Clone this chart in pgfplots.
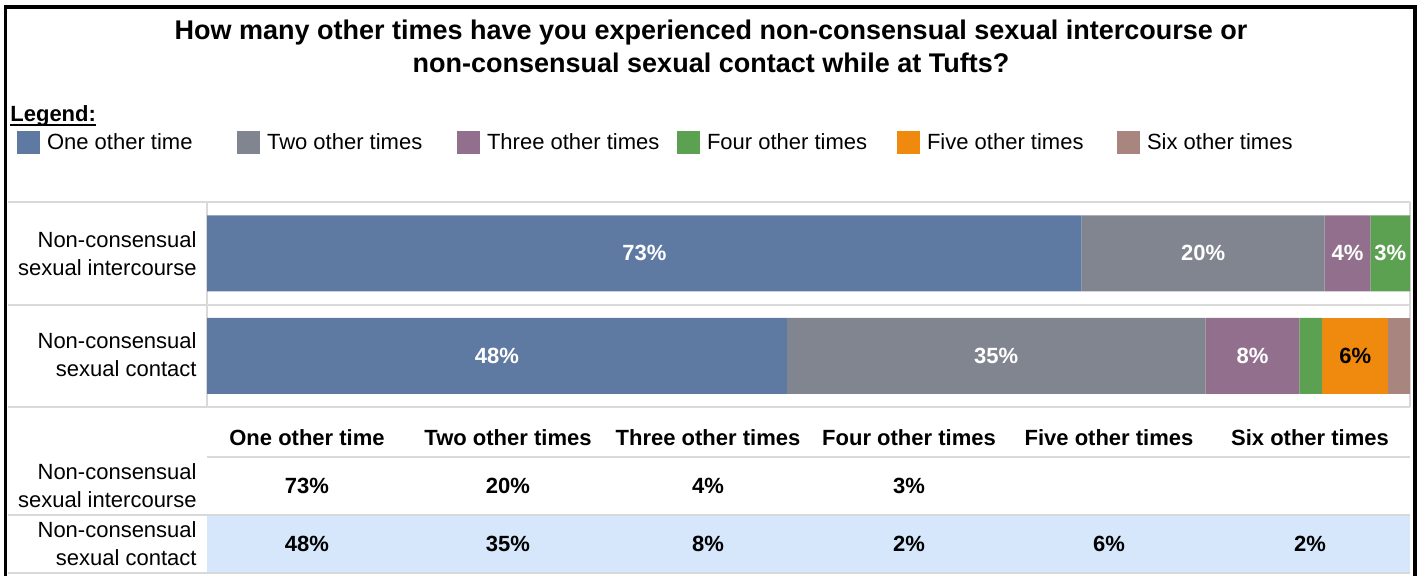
\documentclass[border=0pt]{standalone}
\usepackage{pgfplots}
\pgfplotsset{compat=1.18}
\usepackage{fontspec}
\setmainfont{Liberation Sans}
\definecolor{cOne}{HTML}{5F7AA2}
\definecolor{cTwo}{HTML}{81858F}
\definecolor{cThree}{HTML}{92708D}
\definecolor{cFour}{HTML}{5BA151}
\definecolor{cFive}{HTML}{F08A0E}
\definecolor{cSix}{HTML}{A8857E}
\definecolor{bgblue}{HTML}{D6E7FB}
\definecolor{gridc}{HTML}{D9D9D9}
\newcommand{\fs}{\fontsize{11}{14}\selectfont}
\begin{document}
\begin{tikzpicture}
% ---------- frame, titles, grid (pixel coordinates, y downwards)
\begin{scope}[x=0.5pt,y=-0.5pt]
\path[use as bounding box] (0,0) rectangle (1423,575);
\fill[bgblue] (207,516) rectangle (1410,573);
\draw[gridc, line width=0.6pt] (8,202) -- (1410,202);
\draw[gridc, line width=0.6pt] (8,305) -- (1410,305);
\draw[gridc, line width=0.6pt] (8,407) -- (1410,407);
\draw[gridc, line width=0.6pt] (207,202) -- (207,407);
\draw[gridc, line width=0.6pt] (1410,202) -- (1410,407);
\draw[gridc, line width=0.6pt] (207,457) -- (1410,457);
\draw[gridc, line width=0.6pt] (8,515) -- (1410,515);
\draw[gridc, line width=0.6pt] (8,573) -- (1410,573);
\draw[black, line width=1.6pt] (5.5,576) -- (5.5,7) -- (1415,7) -- (1415,576);
\node[align=center, font=\bfseries\fontsize{13.5}{16.5}\selectfont] at (711,46.5)
  {How many other times have you experienced non-consensual sexual intercourse or\\non-consensual sexual contact while at Tufts?};
\node[anchor=west, inner sep=0pt, font=\bfseries\fs] (lg) at (10,116) {Legend:};
\draw[line width=0.9pt] ([yshift=-1.6pt]lg.base west) -- ([yshift=-1.6pt]lg.base east);
% row labels of the chart
\node[anchor=east, align=right, inner sep=0pt, font=\fs] at (197,254) {Non-consensual\\sexual intercourse};
\node[anchor=east, align=right, inner sep=0pt, font=\fs] at (197,355) {Non-consensual\\sexual contact};
% data table
\foreach \x/\t in {307/One other time,508/Two other times,708/Three other times,909/Four other times,1109/Five other times,1310/Six other times}
  \node[font=\bfseries\fs] at (\x,438) {\t};
\node[anchor=east, align=right, inner sep=0pt, font=\fs] at (197,486) {Non-consensual\\sexual intercourse};
\node[anchor=east, align=right, inner sep=0pt, font=\fs] at (197,544) {Non-consensual\\sexual contact};
\foreach \x/\t in {307/73\%,508/20\%,708/4\%,909/3\%}
  \node[font=\bfseries\fs] at (\x,486) {\t};
\foreach \x/\t in {307/48\%,508/35\%,708/8\%,909/2\%,1109/6\%,1310/2\%}
  \node[font=\bfseries\fs] at (\x,544) {\t};
\end{scope}
% ---------- stacked bars
\begin{axis}[
  at={(103.5pt,-203.5pt)}, anchor=south west,
  scale only axis, width=601.5pt, height=102.5pt,
  xbar stacked, bar width=38pt,
  xmin=0, xmax=100, ymin=0, ymax=2,
  hide axis, clip=false,
  legend columns=6,
  legend image code/.code={\fill[#1,draw=none] (0pt,-5.75pt) rectangle (11.5pt,5.75pt);},
  legend style={draw=none, fill=none, inner sep=0pt, outer sep=0pt,
    at={(axis description cs:-0.1579,1.288)}, anchor=west,
    font=\fs, nodes={inner sep=0pt},
    /tikz/every odd column/.append style={column sep=3.5pt},
    /tikz/every even column/.append style={column sep=0pt}},
]
\addplot[fill=cOne, draw=none] coordinates {(72.7,1.5) (48.2,0.5)};
\addlegendentry{\makebox[95pt][l]{One other time}}
\addplot[fill=cTwo, draw=none] coordinates {(20.2,1.5) (34.8,0.5)};
\addlegendentry{\makebox[95pt][l]{Two other times}}
\addplot[fill=cThree, draw=none] coordinates {(3.8,1.5) (7.8,0.5)};
\addlegendentry{\makebox[95pt][l]{Three other times}}
\addplot[fill=cFour, draw=none] coordinates {(3.3,1.5) (1.9,0.5)};
\addlegendentry{\makebox[95pt][l]{Four other times}}
\addplot[fill=cFive, draw=none] coordinates {(0,1.5) (5.5,0.5)};
\addlegendentry{\makebox[95pt][l]{Five other times}}
\addplot[fill=cSix, draw=none] coordinates {(0,1.5) (1.8,0.5)};
\addlegendentry{\makebox[95pt][l]{Six other times}}
\end{axis}
% ---------- segment labels (centres of the segments)
\begin{axis}[
  at={(103.5pt,-203.5pt)}, anchor=south west,
  scale only axis, width=601.5pt, height=102.5pt,
  xmin=0, xmax=100, ymin=0, ymax=2,
  hide axis, clip=false,
  nodes near coords, point meta=explicit symbolic,
  every node near coord/.append style={anchor=center, font=\bfseries\fs, inner sep=0pt},
]
\addplot[draw=none, mark=none, every node near coord/.append style={text=white}]
  coordinates {(36.35,1.5)[73\%] (82.8,1.5)[20\%] (94.8,1.5)[4\%] (98.35,1.5)[3\%]
               (24.1,0.5)[48\%] (65.6,0.5)[35\%] (86.9,0.5)[8\%]};
\addplot[draw=none, mark=none, every node near coord/.append style={text=black}]
  coordinates {(95.45,0.5)[6\%]};
\end{axis}
\end{tikzpicture}
\end{document}
